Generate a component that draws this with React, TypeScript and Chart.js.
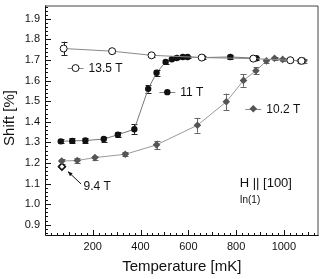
import React, { useEffect, useRef } from 'react';
import { Chart, registerables } from 'chart.js';

Chart.register(...registerables);

const X_TICKS = [200, 400, 600, 800, 1000];
const Y_TICKS = [0.9, 1.0, 1.1, 1.2, 1.3, 1.4, 1.5, 1.6, 1.7, 1.8, 1.9];

const T135 = [78, 281, 446, 656, 872, 1027, 1074];
const S135 = [1.756, 1.743, 1.723, 1.712, 1.707, 1.699, 1.696];
const E135 = [0.033, 0.008, 0.007, 0.007, 0.008, 0.007, 0.007];

const T11 = [66, 114, 169, 246, 305, 374, 432, 467, 505, 531, 552, 577, 597, 660, 776, 885];
const S11 = [1.305, 1.307, 1.309, 1.316, 1.337, 1.364, 1.56, 1.638, 1.691, 1.704, 1.71, 1.715, 1.715, 1.712, 1.715, 1.709];
const E11 = [0.01, 0.012, 0.012, 0.012, 0.012, 0.024, 0.018, 0.015, 0.01, 0.006, 0.006, 0.006, 0.006, 0.008, 0.008, 0.008];

const T102 = [70, 135, 209, 336, 467, 638, 759, 831, 883, 927, 961, 995, 1027, 1067, 1084];
const S102 = [1.209, 1.212, 1.226, 1.242, 1.288, 1.383, 1.497, 1.601, 1.648, 1.696, 1.709, 1.703, 1.699, 1.696, 1.696];
const E102 = [0.012, 0.01, 0.01, 0.01, 0.02, 0.036, 0.04, 0.031, 0.018, 0.01, 0.008, 0.008, 0.008, 0.008, 0.008];

const T94 = [71];
const S94 = [1.182];

const LABELS = ['13.5 T', '11 T', '10.2 T', '9.4 T'];

const FONT = '"Liberation Sans", Arial, sans-serif';

function drawMarker(ctx: CanvasRenderingContext2D, kind: string, x: number, y: number) {
  ctx.save();
  ctx.lineWidth = 1;
  if (kind === 'open') {
    ctx.beginPath();
    ctx.arc(x, y, 3.5, 0, Math.PI * 2);
    ctx.fillStyle = '#fff';
    ctx.fill();
    ctx.strokeStyle = '#111';
    ctx.stroke();
  } else if (kind === 'filled') {
    ctx.beginPath();
    ctx.arc(x, y, 3.2, 0, Math.PI * 2);
    ctx.fillStyle = '#111';
    ctx.fill();
  } else {
    const r = 3.8;
    ctx.beginPath();
    ctx.moveTo(x, y - r);
    ctx.lineTo(x + r, y);
    ctx.lineTo(x, y + r);
    ctx.lineTo(x - r, y);
    ctx.closePath();
    ctx.fillStyle = '#555';
    ctx.fill();
  }
  ctx.restore();
}

const deco = {
  id: 'deco',
  beforeDatasetsDraw(chart: any) {
    const ctx = chart.ctx as CanvasRenderingContext2D;
    const xs = chart.scales.x;
    const ys = chart.scales.y;
    chart.data.datasets.forEach((ds: any) => {
      if (!ds.errorBars) return;
      ctx.save();
      ctx.strokeStyle = ds.errorColor;
      ctx.lineWidth = 1;
      ds.data.forEach((p: any, i: number) => {
        const e = ds.errorBars[i];
        const px = Math.round(xs.getPixelForValue(p.x)) + 0.5;
        const y1 = ys.getPixelForValue(p.y + e);
        const y2 = ys.getPixelForValue(p.y - e);
        ctx.beginPath();
        ctx.moveTo(px, y1);
        ctx.lineTo(px, y2);
        ctx.moveTo(px - 3, Math.round(y1) + 0.5);
        ctx.lineTo(px + 3, Math.round(y1) + 0.5);
        ctx.moveTo(px - 3, Math.round(y2) + 0.5);
        ctx.lineTo(px + 3, Math.round(y2) + 0.5);
        ctx.stroke();
      });
      ctx.restore();
    });
  },
  afterDraw(chart: any) {
    const ctx = chart.ctx as CanvasRenderingContext2D;
    const a = chart.chartArea;
    const xs = chart.scales.x;
    const ys = chart.scales.y;
    ctx.save();
    // frame
    ctx.lineWidth = 1;
    ctx.strokeStyle = '#444';
    ctx.beginPath();
    ctx.moveTo(a.left, a.top + 0.5);
    ctx.lineTo(a.right - 0.5, a.top + 0.5);
    ctx.lineTo(a.right - 0.5, a.bottom);
    ctx.stroke();
    ctx.strokeStyle = '#111';
    ctx.beginPath();
    ctx.moveTo(a.left + 0.5, a.top);
    ctx.lineTo(a.left + 0.5, a.bottom - 0.5);
    ctx.lineTo(a.right, a.bottom - 0.5);
    ctx.stroke();
    // inward ticks
    ctx.beginPath();
    for (let i = 43; i <= 98; i++) {
      const v = i * 0.02;
      const py = Math.round(ys.getPixelForValue(v)) + 0.5;
      const len = i % 5 === 0 ? 6 : 3;
      ctx.moveTo(a.left, py);
      ctx.lineTo(a.left + len, py);
    }
    for (let i = 1; i * 25 < 1145; i++) {
      const v = i * 25;
      const px = Math.round(xs.getPixelForValue(v)) + 0.5;
      const len = v % 200 === 0 ? 6 : v % 100 === 0 ? 4 : 3;
      ctx.moveTo(px, a.bottom);
      ctx.lineTo(px, a.bottom - len);
    }
    ctx.stroke();

    // axis titles
    ctx.fillStyle = '#111';
    ctx.font = '15px ' + FONT;
    ctx.textAlign = 'center';
    ctx.textBaseline = 'middle';
    ctx.fillText('Temperature [mK]', (a.left + a.right) / 2 + 0, 267);
    ctx.save();
    ctx.translate(10, 118);
    ctx.rotate(-Math.PI / 2);
    ctx.fillText('Shift [%]', 0, 0);
    ctx.restore();

    // inline legend labels
    const legends = [
      { kind: 'open', x: 128, y: 1.661, text: LABELS[0] },
      { kind: 'filled', x: 512, y: 1.544, text: LABELS[1] },
      { kind: 'diamond', x: 872, y: 1.463, text: LABELS[2] },
    ];
    ctx.font = '12px ' + FONT;
    ctx.textAlign = 'left';
    legends.forEach((l) => {
      const px = xs.getPixelForValue(l.x);
      const py = ys.getPixelForValue(l.y);
      ctx.strokeStyle = '#888';
      ctx.lineWidth = 1;
      ctx.beginPath();
      ctx.moveTo(px - 8, Math.round(py) + 0.5);
      ctx.lineTo(px + 8, Math.round(py) + 0.5);
      ctx.stroke();
      drawMarker(ctx, l.kind, px, py);
      ctx.fillStyle = '#111';
      ctx.fillText(l.text, px + 13, py + 0.5);
    });

    // 9.4 T arrow annotation
    const ax1 = xs.getPixelForValue(151), ay1 = ys.getPixelForValue(1.098);
    const ax2 = xs.getPixelForValue(96), ay2 = ys.getPixelForValue(1.158);
    ctx.strokeStyle = '#111';
    ctx.lineWidth = 1;
    ctx.beginPath();
    ctx.moveTo(ax1, ay1);
    ctx.lineTo(ax2, ay2);
    ctx.stroke();
    const ang = Math.atan2(ay2 - ay1, ax2 - ax1);
    ctx.fillStyle = '#111';
    ctx.beginPath();
    ctx.moveTo(ax2, ay2);
    ctx.lineTo(ax2 - 5 * Math.cos(ang - 0.4), ay2 - 5 * Math.sin(ang - 0.4));
    ctx.lineTo(ax2 - 5 * Math.cos(ang + 0.4), ay2 - 5 * Math.sin(ang + 0.4));
    ctx.closePath();
    ctx.fill();
    ctx.font = '12px ' + FONT;
    ctx.fillText(LABELS[3], xs.getPixelForValue(161), ys.getPixelForValue(1.087));

    // field direction text
    ctx.font = '13px ' + FONT;
    ctx.fillText('H || [100]', xs.getPixelForValue(815), ys.getPixelForValue(1.101));
    ctx.font = '10px ' + FONT;
    ctx.fillText('In(1)', xs.getPixelForValue(815), ys.getPixelForValue(1.02));
    ctx.restore();
  },
};

const pts = (xs: number[], ys: number[]) => xs.map((x, i) => ({ x, y: ys[i] }));

export default function App() {
  const ref = useRef<HTMLCanvasElement | null>(null);
  useEffect(() => {
    if (!ref.current) return;
    const chart = new Chart(ref.current, {
      type: 'scatter',
      data: {
        datasets: [
          {
            label: LABELS[0],
            data: pts(T135, S135),
            showLine: true,
            borderColor: '#888',
            borderWidth: 1,
            pointStyle: 'circle',
            pointRadius: 3.5,
            pointBackgroundColor: '#fff',
            pointBorderColor: '#111',
            pointBorderWidth: 1,
            errorBars: E135,
            errorColor: '#222',
          } as any,
          {
            label: LABELS[1],
            data: pts(T11, S11),
            showLine: true,
            borderColor: '#777',
            borderWidth: 1,
            pointStyle: 'circle',
            pointRadius: 3.2,
            pointBackgroundColor: '#111',
            pointBorderColor: '#111',
            pointBorderWidth: 0,
            errorBars: E11,
            errorColor: '#222',
          } as any,
          {
            label: LABELS[2],
            data: pts(T102, S102),
            showLine: true,
            borderColor: '#999',
            borderWidth: 1,
            pointStyle: 'rectRot',
            pointRadius: 3.8,
            pointBackgroundColor: '#555',
            pointBorderColor: '#555',
            pointBorderWidth: 0,
            errorBars: E102,
            errorColor: '#666',
          } as any,
          {
            label: LABELS[3],
            data: pts(T94, S94),
            showLine: false,
            pointStyle: 'rectRot',
            pointRadius: 3.5,
            pointBackgroundColor: '#fff',
            pointBorderColor: '#111',
            pointBorderWidth: 1.5,
          } as any,
        ],
      },
      options: {
        responsive: false,
        animation: false,
        layout: { padding: { top: 0, right: 1, left: 0, bottom: 0 } },
        plugins: { legend: { display: false }, tooltip: { enabled: false } },
        scales: {
          x: {
            type: 'linear',
            min: 0,
            max: 1145,
            grid: { display: false, drawTicks: false },
            border: { display: false },
            ticks: {
              padding: 4,
              color: '#111',
              font: { family: FONT, size: 11 },
              maxRotation: 0,
              callback: (v: any) => String(v),
            },
            afterBuildTicks: (s: any) => {
              s.ticks = X_TICKS.map((v) => ({ value: v }));
            },
            afterFit: (s: any) => {
              s.height = 43;
              s.paddingLeft = 0;
              s.paddingRight = 0;
            },
          },
          y: {
            type: 'linear',
            min: 0.845,
            max: 1.965,
            grid: { display: false, drawTicks: false },
            border: { display: false },
            ticks: {
              padding: 5,
              color: '#111',
              font: { family: FONT, size: 11 },
              callback: (v: any) => Number(v).toFixed(1),
            },
            afterBuildTicks: (s: any) => {
              s.ticks = Y_TICKS.map((v) => ({ value: v }));
            },
            afterFit: (s: any) => {
              s.width = 45;
              s.paddingTop = 0;
              s.paddingBottom = 0;
            },
          },
        },
      },
      plugins: [deco],
    });
    return () => chart.destroy();
  }, []);
  return (
    <div style={{ position: 'absolute', left: 0, top: 0, width: 324, height: 279, background: '#fff' }}>
      <canvas ref={ref} width={324} height={279} />
    </div>
  );
}
